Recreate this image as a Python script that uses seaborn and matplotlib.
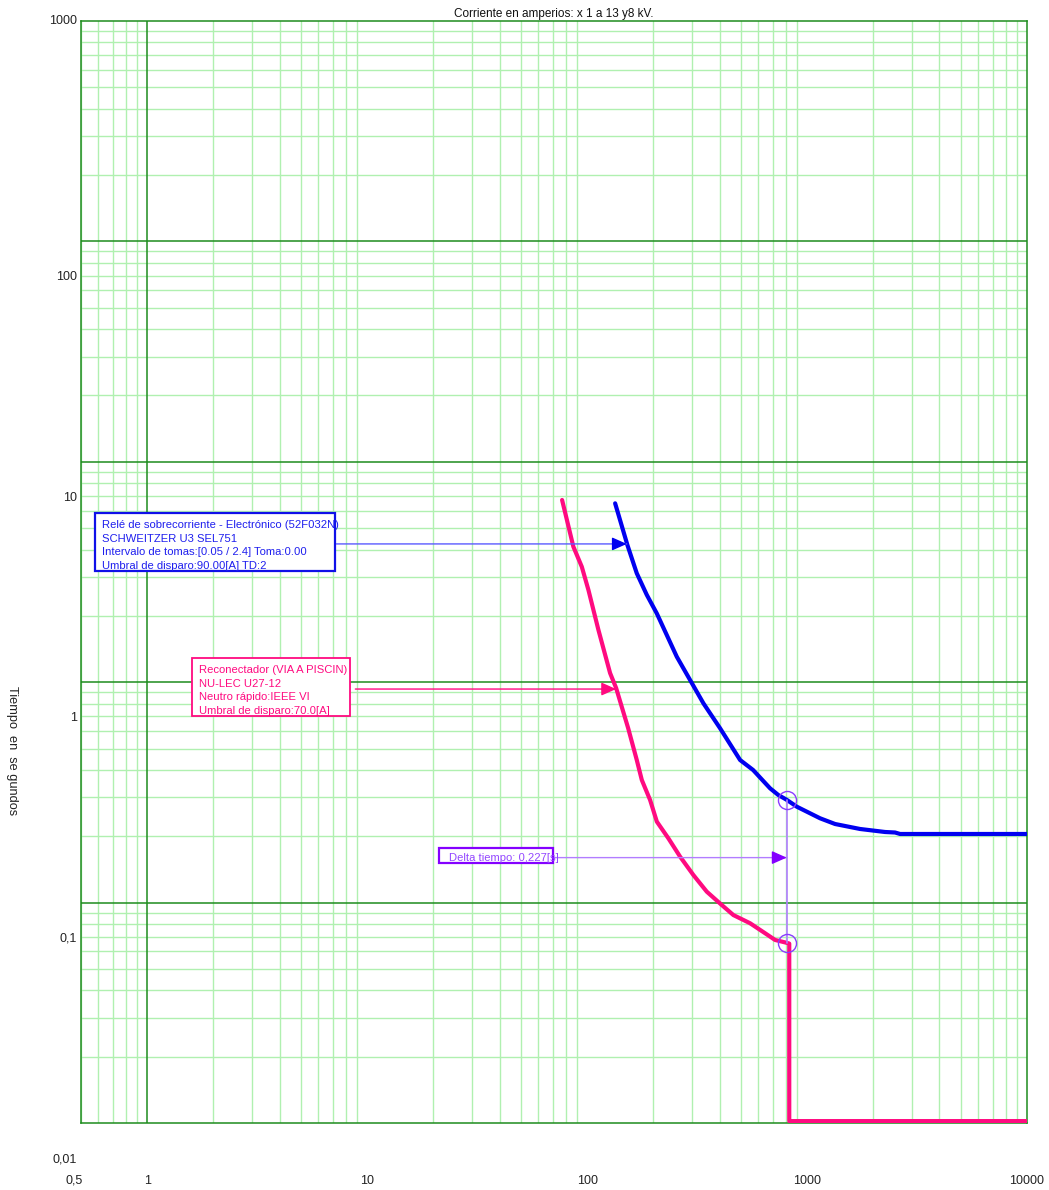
import numpy as np
import pandas as pd
import seaborn as sns
import matplotlib.pyplot as plt
from matplotlib.ticker import LogLocator, FixedLocator, NullFormatter
from matplotlib.patches import Rectangle

# ---- data -------------------------------------------------------------
# Recloser (fast neutral, IEEE VI) time-current curve
recloser_current = [76.96, 86.6, 94.6, 101.4, 112.6, 127.2, 135.5, 143.8, 153.6,
                    168.2, 177.3, 193.4, 207.5, 234.2, 264.7, 304.2, 350.0, 409.6,
                    462.4, 550.7, 644.6, 715.3, 808.0, 830.0, 830.0, 10000.0]
recloser_time = [6.71, 4.12, 3.34, 2.62, 1.725, 1.10, 0.941, 0.772, 0.620,
                 0.4436, 0.360, 0.292, 0.233, 0.1957, 0.1616, 0.1334, 0.1121, 0.0975,
                 0.0878, 0.0806, 0.0726, 0.0677, 0.0657, 0.0652, 0.0102, 0.0102]

# Overcurrent relay SEL751 time-current curve
relay_current = [134.1, 152.5, 168.2, 186.8, 207.5, 255.7, 293.9, 337.9, 402.3,
                 496.1, 568.3, 679.0, 740.6, 808.0, 898.0, 1146.0, 1341.0, 1741.0,
                 2262.0, 2512.0, 2648.0, 10000.0]
relay_time = [6.48, 4.19, 3.12, 2.49, 2.05, 1.305, 1.023, 0.802, 0.618,
              0.4436, 0.3997, 0.330, 0.3076, 0.2927, 0.2724, 0.2413, 0.2273, 0.2158,
              0.2091, 0.2080, 0.2048, 0.2048]

# coordination check
delta_current = 808.0
delta_recloser_time = 0.0657
delta_seconds = 0.227
delta_relay_time = delta_recloser_time + delta_seconds

relay_label = ["Relé de sobrecorriente - Electrónico (52F032N)",
               "SCHWEITZER U3 SEL751",
               "Intervalo de tomas:[0.05 / 2.4] Toma:0.00",
               "Umbral de disparo:90.00[A] TD:2"]
recloser_label = ["Reconectador (VIA A PISCIN)",
                  "NU-LEC U27-12",
                  "Neutro rápido:IEEE VI",
                  "Umbral de disparo:70.0[A]"]
delta_label = "Delta tiempo: 0,227[s]"

relay_pointer = (151.5, 4.24)
recloser_pointer = (135.5, 0.931)
delta_pointer_time = 0.16

x_tick_values = [0.5, 1, 10, 100, 1000, 10000]
x_tick_labels = ["0,5", "1", "10", "100", "1000", "10000"]
y_tick_values = [1000, 100, 10, 1, 0.1, 0.01]
y_tick_labels = ["1000", "100", "10", "1", "0,1", "0,01"]

title_text = "Corriente en amperios: x 1 a 13 y8 kV."
ylabel_text = "Tiempo  en  se gundos"

# ---- style ------------------------------------------------------------
sns.set_style("white")
plt.rcParams['font.family'] = ['Liberation Sans', 'DejaVu Sans']
FS = 8.5
FS_TICK = 9.0
FS_NOTE = 8.1
LIGHT = "#b0f0b0"
DARK = "#1e8c1e"
BLUE = "#0000f0"
BLUE_TXT = "#1f1fee"
PINK = "#ff0a80"
PURPLE = "#8400ff"
PURPLE_LIGHT = "#b27dff"

fig = plt.figure(figsize=(10.49, 11.90), dpi=100)
ax = fig.add_axes([81 / 1049, 67 / 1190, 946 / 1049, 1102 / 1190])
ax.set_xscale("log")
ax.set_yscale("log")
ax.set_xlim(0.5, 10000)
ax.set_ylim(0.01, 1000)

# grid
ax.xaxis.set_minor_locator(LogLocator(base=10, subs=np.arange(2, 10), numticks=30))
ax.yaxis.set_minor_locator(LogLocator(base=10, subs=np.arange(2, 10), numticks=30))
ax.xaxis.set_major_locator(FixedLocator([1, 10, 100, 1000]))
ax.yaxis.set_major_locator(FixedLocator([0.1, 1, 10, 100]))
for axis in (ax.xaxis, ax.yaxis):
    axis.set_major_formatter(NullFormatter())
    axis.set_minor_formatter(NullFormatter())
ax.grid(which="minor", color=LIGHT, lw=1.0)
ax.yaxis.grid(True, which="major", color=DARK, lw=1.1)
ax.xaxis.grid(False, which="major")
ax.axvline(1, color=DARK, lw=1.1, zorder=1)
ax.tick_params(which="minor", length=0)
ax.tick_params(axis="x", which="major", direction="in", length=3, color=DARK, width=1)
ax.tick_params(axis="y", which="major", length=0)
for sp in ax.spines.values():
    sp.set_color(DARK)
    sp.set_linewidth(1.1)
ax.set_axisbelow(True)

# curves
rec_df = pd.DataFrame({"corriente": recloser_current, "tiempo": recloser_time})
rel_df = pd.DataFrame({"corriente": relay_current, "tiempo": relay_time})
sns.lineplot(data=rec_df, x="corriente", y="tiempo", sort=False, estimator=None,
             color=PINK, lw=3, ax=ax, zorder=4)
sns.lineplot(data=rel_df, x="corriente", y="tiempo", sort=False, estimator=None,
             color=BLUE, lw=3, ax=ax, zorder=4)
ax.set_xlabel("")
ax.set_ylabel("")

# tick labels
for v, lab in zip(x_tick_values, x_tick_labels):
    dx = -7 if v == min(x_tick_values) else 0
    ax.annotate(lab, xy=(v, 0), xycoords=("data", "axes fraction"),
                xytext=(dx, -56), textcoords="offset pixels",
                ha="center", va="center_baseline", fontsize=FS_TICK, color="#222222",
                annotation_clip=False)
for v, lab in zip(y_tick_values, y_tick_labels):
    dy = 0 if v == max(y_tick_values) else -36
    ax.annotate(lab, xy=(0, v), xycoords=("axes fraction", "data"),
                xytext=(-4, dy), textcoords="offset pixels",
                ha="right", va="center", fontsize=FS_TICK, color="#222222",
                annotation_clip=False)

ax.set_title(title_text, fontsize=FS, pad=3, color="#111111")
fig.text(12 / 1049, 1 - 751 / 1190, ylabel_text, rotation=-90, ha="center",
         va="center", fontsize=9.2, color="#222222")


def label_box(lines, left, bottom, width, height, edge, txt, lw):
    ax.add_patch(Rectangle((left, bottom), width, height, transform=ax.transAxes,
                           facecolor="white", edgecolor=edge, lw=lw, zorder=6,
                           clip_on=False))
    ax.annotate("\n".join(lines), xy=(left, bottom + height), xycoords="axes fraction",
                xytext=(7, -7), textcoords="offset pixels", ha="left", va="top",
                fontsize=FS_NOTE, color=txt, linespacing=1.45, zorder=7)


def pointer(start_frac, tip, line_color, head_color, lw=1.0):
    ax.annotate("", xy=tip, xycoords="data",
                xytext=(start_frac, tip[1]), textcoords=("axes fraction", "data"),
                arrowprops=dict(arrowstyle="-", color=line_color, lw=lw,
                                shrinkA=0, shrinkB=0), zorder=5)
    ax.annotate("", xy=tip, xycoords="data", xytext=(-14, 0),
                textcoords="offset pixels",
                arrowprops=dict(arrowstyle="-|>,head_length=0.9,head_width=0.4",
                                color=head_color, lw=1, shrinkA=0, shrinkB=0),
                zorder=5)


# relay annotation
label_box(relay_label, 0.0148, 0.5009, 0.2537, 0.0526, "#1010e8", BLUE_TXT, 1.6)
pointer(0.2700, relay_pointer, "#5a5aff", BLUE)

# recloser annotation
label_box(recloser_label, 0.1173, 0.3693, 0.1671, 0.0527, PINK, PINK, 1.3)
pointer(0.2900, recloser_pointer, PINK, PINK)

# coordination margin
ax.add_patch(Rectangle((0.3784, 0.2359), 0.1205, 0.0136, transform=ax.transAxes,
                       facecolor="white", edgecolor=PURPLE, lw=1.6, zorder=6))
ax.annotate(delta_label, xy=(0.3784, delta_pointer_time),
            xycoords=("axes fraction", "data"), xytext=(10, 0),
            textcoords="offset pixels", ha="left", va="center",
            fontsize=FS_NOTE, color="#9347ff", zorder=7)
pointer(0.4995, (delta_current, delta_pointer_time), PURPLE_LIGHT, PURPLE)
ax.plot([delta_current, delta_current], [delta_relay_time, delta_recloser_time],
        color=PURPLE_LIGHT, lw=1.2, zorder=5)
ax.plot([delta_current, delta_current], [delta_relay_time, delta_recloser_time],
        ls="none", marker="o", ms=13, mfc="none", mec="#8a3cff", mew=1.0, zorder=6)

fig.savefig("out.png", dpi=100, facecolor="white")
